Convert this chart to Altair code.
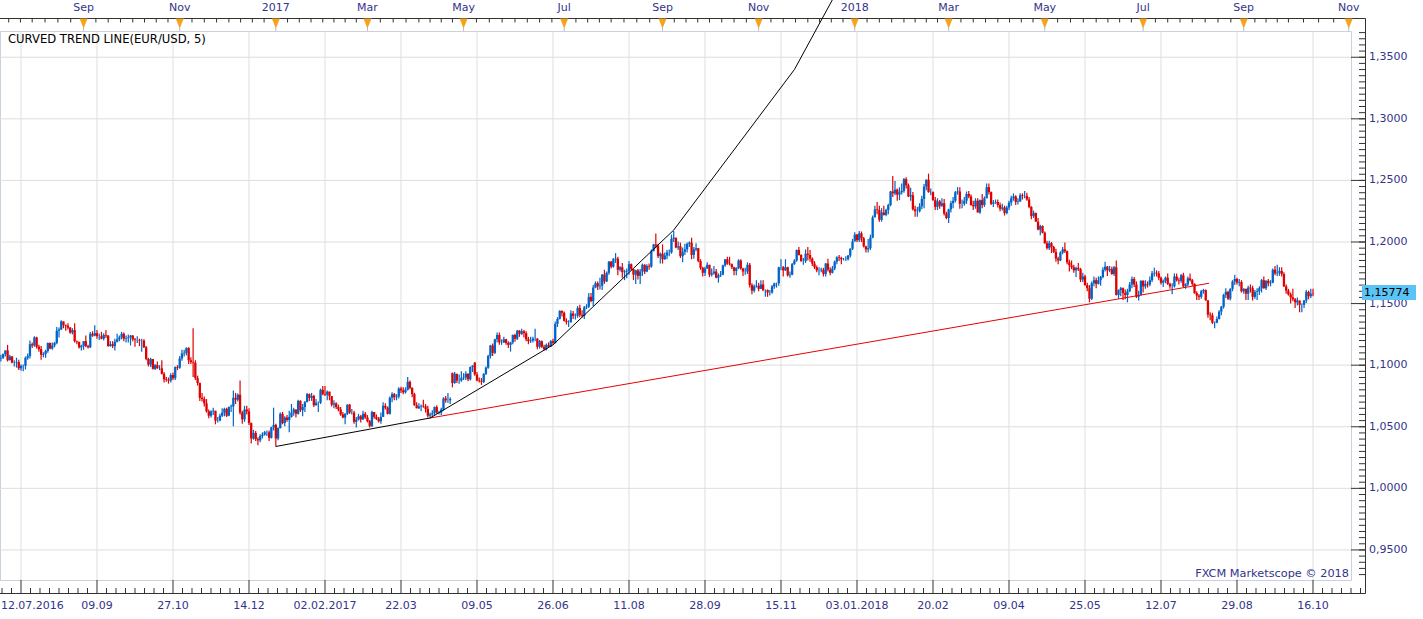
import altair as alt
import pandas as pd

FONT = "DejaVu Sans"
BLUE = "#0064c8"
RED = "#e00000"
LABEL = "#33338a"
GRID = "#dedede"
AXIS = "#333333"
FRAME = "#c9d1dc"

# ---------------- data (EUR/USD daily, 1e-4 units: (high, low, close)) ----------------
first_open = 11055
gap_opens = {"2017-04-24": 10935, "2017-05-08": 11020}
dropped_days = ["2016-12-26", "2017-01-02", "2018-01-01"]
current_price = 1.15774
current_label = "1,15774"

m2016_07 = [(11085,11030,11060),(11095,11050,11090),(11120,11070,11120),(11165,11030,11040),(11085,11040,11070),(11075,11015,11020),(11040,10990,11020),(11060,10980,11025),(11045,10960,10975),(11005,10955,10995),(11005,10950,10995),(11070,10965,11060),(11095,11045,11075),(11200,11055,11170)]
m2016_08 = [(11185,11140,11160),(11235,11150,11225),(11230,11135,11150),(11165,11110,11130),(11155,11045,11085),(11105,11065,11090),(11125,11060,11115),(11185,11100,11180),(11185,11130,11135),(11185,11125,11160),(11190,11145,11180),(11310,11170,11280),(11305,11225,11290),(11365,11285,11355),(11355,11300,11325),(11330,11280,11320),(11340,11290,11305),(11310,11255,11265),(11300,11250,11285),(11340,11185,11195),(11200,11170,11190),(11190,11135,11145),(11165,11120,11155)]
m2016_09 = [(11195,11125,11195),(11240,11145,11155),(11165,11135,11145),(11270,11140,11255),(11275,11230,11240),(11325,11235,11260),(11285,11215,11235),(11255,11205,11235),(11270,11210,11215),(11260,11200,11245),(11285,11220,11240),(11245,11150,11155),(11195,11150,11170),(11195,11140,11155),(11215,11120,11190),(11255,11185,11210),(11240,11195,11225),(11270,11210,11255),(11265,11195,11215),(11240,11185,11220),(11250,11185,11225),(11245,11160,11240)]
m2016_10 = [(11245,11195,11210),(11220,11150,11205),(11235,11180,11205),(11215,11155,11200),(11215,11110,11200),(11210,11140,11145),(11155,11040,11050),(11060,10990,11005),(11060,10985,11050),(11050,10965,10970),(11010,10960,11000),(11030,10970,10975),(11000,10960,10975),(11040,10925,10930),(10945,10860,10885),(10905,10865,10880),(10900,10850,10875),(10935,10860,10920),(10940,10880,10895),(10990,10880,10985),(11000,10960,10980)]
m2016_11 = [(11075,10970,11055),(11125,11035,11095),(11125,11070,11100),(11145,11080,11140),(11145,11010,11040),(11065,11010,11025),(11300,10905,11020),(11040,10880,10895),(10915,10835,10855),(10860,10710,10735),(10775,10705,10725),(10745,10665,10690),(10725,10615,10625),(10640,10570,10590),(10635,10575,10625),(10655,10595,10630),(10630,10520,10550),(10580,10535,10550),(10605,10545,10590),(10650,10580,10615),(10655,10585,10645),(10655,10580,10590)]
m2016_12 = [(10665,10585,10660),(10680,10620,10665),(10795,10505,10735),(10775,10685,10720),(10770,10705,10760),(10875,10600,10615),(10630,10525,10560),(10670,10540,10640),(10670,10600,10625),(10650,10515,10530),(10535,10365,10405),(10475,10395,10450),(10465,10385,10400),(10415,10350,10390),(10440,10375,10425),(10455,10405,10435),(10465,10430,10455),(10470,10425,10455),(10470,10385,10410),(10500,10405,10495),(10655,10470,10515)]
m2017_01 = [(10525,10340,10405),(10495,10390,10490),(10615,10485,10605),(10620,10520,10530),(10585,10505,10575),(10595,10540,10555),(10630,10455,10580),(10685,10575,10615),(10655,10590,10640),(10630,10575,10605),(10720,10600,10710),(10715,10620,10635),(10685,10585,10660),(10710,10620,10700),(10775,10700,10765),(10770,10710,10735),(10775,10710,10750),(10760,10660,10675),(10725,10670,10695),(10705,10620,10695),(10810,10685,10800)]
m2017_02 = [(10830,10755,10765),(10830,10750,10760),(10795,10715,10785),(10780,10715,10750),(10750,10665,10680),(10715,10650,10690),(10700,10645,10660),(10680,10625,10640),(10660,10590,10600),(10620,10570,10575),(10610,10520,10605),(10680,10595,10680),(10685,10605,10615),(10645,10600,10615),(10630,10525,10540),(10580,10495,10560),(10605,10550,10585),(10595,10535,10560),(10630,10555,10605),(10620,10565,10575)]
m2017_03 = [(10595,10535,10545),(10555,10495,10505),(10630,10500,10620),(10615,10565,10580),(10600,10555,10565),(10580,10535,10545),(10615,10525,10580),(10700,10580,10670),(10690,10640,10655),(10665,10600,10605),(10745,10600,10735),(10780,10700,10765),(10775,10715,10740),(10765,10715,10745),(10820,10730,10810),(10825,10775,10795),(10820,10765,10780),(10820,10770,10800),(10905,10795,10865),(10875,10805,10815),(10820,10740,10765),(10775,10670,10675),(10700,10650,10650)]
m2017_04 = [(10690,10645,10665),(10680,10625,10670),(10720,10655,10665),(10685,10615,10645),(10670,10575,10590),(10615,10570,10600),(10635,10580,10610),(10665,10590,10660),(10675,10605,10615),(10630,10600,10615),(10655,10595,10640),(10740,10630,10730),(10750,10695,10715),(10775,10695,10715),(10740,10685,10725),(10940,10820,10855),(10945,10850,10930),(10930,10855,10875),(10925,10850,10875),(10950,10865,10895)]
m2017_05 = [(10935,10880,10900),(10950,10880,10930),(10935,10870,10885),(10990,10875,10985),(11000,10945,10995),(11025,10915,10925),(10945,10870,10875),(10900,10860,10870),(10895,10840,10865),(10935,10855,10930),(10990,10920,10980),(11085,10970,11075),(11165,11055,11160),(11175,11075,11100),(11215,11090,11210),(11265,11185,11245),(11265,11165,11185),(11210,11165,11185),(11230,11180,11210),(11215,11165,11180),(11195,11140,11165),(11190,11110,11185),(11250,11170,11245)]
m2017_06 = [(11255,11190,11215),(11285,11205,11280),(11285,11230,11255),(11295,11245,11275),(11285,11225,11260),(11275,11195,11210),(11230,11170,11195),(11230,11180,11200),(11230,11185,11215),(11295,11195,11215),(11220,11130,11150),(11205,11135,11195),(11200,11140,11150),(11165,11120,11130),(11175,11120,11165),(11185,11145,11150),(11205,11150,11195),(11215,11165,11180),(11355,11175,11335),(11390,11310,11375),(11445,11370,11440),(11445,11395,11425)]
m2017_07 = [(11435,11355,11360),(11380,11330,11350),(11365,11310,11350),(11445,11345,11420),(11440,11375,11400),(11420,11370,11400),(11480,11385,11465),(11490,11390,11410),(11445,11390,11400),(11480,11375,11470),(11495,11455,11475),(11585,11465,11555),(11585,11510,11520),(11650,11480,11630),(11680,11625,11665),(11680,11610,11640),(11710,11615,11645),(11740,11610,11735),(11775,11660,11680),(11760,11675,11750),(11845,11735,11840)]
m2017_08 = [(11845,11785,11800),(11870,11790,11860),(11910,11830,11865),(11880,11730,11775),(11805,11760,11795),(11830,11710,11755),(11775,11690,11760),(11785,11705,11765),(11845,11735,11820),(11825,11770,11780),(11780,11690,11735),(11775,11660,11770),(11780,11695,11725),(11780,11660,11760),(11825,11725,11815),(11820,11740,11760),(11820,11755,11805),(11825,11775,11800),(11940,11790,11925),(11985,11925,11980),(12070,11950,11970),(11985,11870,11885),(11915,11825,11905)]
m2017_09 = [(11980,11825,11860),(11915,11855,11890),(11935,11860,11915),(11940,11885,11915),(12060,11905,12025),(12090,12000,12035),(12035,11950,11955),(12005,11935,11965),(11995,11870,11885),(11955,11835,11920),(11985,11895,11940),(11995,11915,11985),(12005,11960,11995),(12035,11860,11895),(11960,11865,11940),(11990,11925,11950),(11950,11835,11845),(11860,11775,11790),(11800,11720,11750),(11800,11725,11785),(11835,11780,11815)]
m2017_10 = [(11815,11715,11735),(11785,11720,11745),(11805,11735,11760),(11780,11705,11710),(11745,11670,11730),(11765,11715,11735),(11815,11730,11810),(11860,11800,11860),(11880,11815,11825),(11880,11810,11820),(11825,11780,11795),(11800,11730,11765),(11795,11730,11790),(11860,11780,11850),(11860,11775,11785),(11790,11725,11760),(11790,11735,11760),(11835,11740,11815),(11830,11630,11650),(11665,11575,11605),(11655,11590,11640),(11690,11630,11645)]
m2017_11 = [(11670,11600,11620),(11690,11620,11655),(11690,11600,11610),(11615,11555,11610),(11615,11555,11590),(11610,11565,11590),(11650,11580,11640),(11670,11620,11665),(11670,11630,11665),(11800,11645,11795),(11860,11770,11795),(11805,11720,11770),(11860,11765,11795),(11800,11720,11730),(11760,11710,11735),(11830,11730,11820),(11860,11815,11850),(11940,11840,11935),(11960,11890,11895),(11900,11840,11845),(11870,11815,11845),(11940,11830,11905)]
m2017_12 = [(11960,11850,11895),(11935,11840,11865),(11875,11805,11825),(11845,11780,11795),(11810,11755,11770),(11795,11730,11770),(11790,11755,11775),(11790,11720,11740),(11830,11720,11825),(11865,11760,11775),(11795,11730,11750),(11805,11745,11785),(11850,11770,11840),(11885,11820,11875),(11895,11845,11870),(11880,11820,11860),(11870,11850,11860),(11885,11845,11860),(11895,11850,11890),(11950,11875,11945),(12025,11935,12005)]
m2018_01 = [(12080,12005,12060),(12065,12000,12015),(12090,12000,12070),(12085,12000,12030),(12040,11955,11965),(11970,11915,11940),(12025,11915,11950),(12060,11935,12035),(12215,12030,12200),(12295,12200,12265),(12325,12225,12260),(12295,12165,12180),(12275,12165,12240),(12295,12215,12220),(12270,12210,12260),(12310,12225,12300),(12415,12290,12410),(12535,12365,12395),(12495,12380,12425),(12435,12335,12385),(12445,12340,12405),(12475,12385,12415)]
m2018_02 = [(12520,12400,12510),(12525,12435,12460),(12475,12365,12370),(12440,12335,12380),(12405,12255,12265),(12295,12205,12250),(12285,12205,12250),(12315,12240,12290),(12375,12265,12350),(12470,12275,12450),(12510,12420,12505),(12555,12400,12405),(12435,12380,12405),(12410,12335,12340),(12365,12260,12285),(12355,12260,12330),(12340,12270,12295),(12355,12285,12315),(12350,12215,12230),(12245,12185,12195)]
m2018_03 = [(12270,12155,12265),(12335,12240,12315),(12365,12275,12335),(12415,12320,12405),(12445,12385,12410),(12445,12270,12310),(12345,12275,12310),(12365,12295,12335),(12410,12310,12390),(12415,12355,12370),(12385,12295,12300),(12335,12260,12290),(12355,12270,12335),(12355,12240,12240),(12345,12230,12340),(12390,12275,12300),(12370,12285,12355),(12475,12355,12445),(12475,12385,12405),(12410,12300,12310),(12340,12285,12320),(12345,12310,12325)]
m2018_04 = [(12345,12280,12300),(12320,12250,12270),(12310,12255,12280),(12295,12215,12235),(12295,12225,12280),(12335,12260,12320),(12375,12295,12355),(12395,12335,12370),(12380,12300,12325),(12355,12305,12330),(12395,12325,12380),(12395,12345,12375),(12415,12355,12375),(12400,12335,12345),(12365,12275,12285),(12290,12185,12210),(12255,12195,12235),(12240,12165,12165),(12195,12095,12100),(12140,12055,12130),(12135,12070,12075)]
m2018_05 = [(12085,11985,11990),(12010,11940,11950),(12010,11935,11990),(12000,11910,11960),(11970,11910,11920),(11945,11840,11865),(11880,11820,11850),(11925,11845,11915),(11960,11900,11940),(11995,11910,11925),(11930,11820,11835),(11855,11760,11810),(11850,11780,11795),(11815,11750,11770),(11800,11715,11790),(11830,11765,11780),(11790,11675,11695),(11750,11675,11720),(11735,11645,11650),(11670,11600,11625),(11650,11510,11540),(11680,11530,11665),(11720,11640,11690)]
m2018_06 = [(11710,11625,11660),(11720,11655,11690),(11725,11645,11715),(11795,11705,11775),(11840,11760,11800),(11805,11725,11770),(11805,11755,11780),(11800,11735,11740),(11805,11725,11795),(11850,11565,11570),(11615,11540,11610),(11635,11560,11625),(11630,11530,11585),(11615,11535,11570),(11620,11510,11600),(11675,11595,11655),(11720,11625,11700),(11715,11635,11655),(11680,11545,11555),(11605,11525,11570),(11690,11565,11685)]
m2018_07 = [(11690,11590,11640),(11690,11620,11660),(11680,11630,11655),(11720,11640,11690),(11765,11675,11745),(11790,11720,11750),(11770,11720,11745),(11765,11690,11710),(11720,11655,11670),(11695,11635,11685),(11720,11665,11710),(11745,11650,11660),(11670,11620,11640),(11665,11575,11640),(11745,11630,11720),(11745,11680,11690),(11710,11655,11685),(11740,11670,11730),(11750,11630,11640),(11665,11620,11655),(11720,11640,11705),(11745,11680,11690)]
m2018_08 = [(11700,11645,11660),(11665,11580,11585),(11600,11530,11565),(11575,11530,11555),(11610,11540,11600),(11620,11580,11610),(11615,11525,11525),(11530,11385,11410),(11430,11365,11405),(11425,11335,11345),(11355,11300,11345),(11395,11340,11375),(11445,11370,11435),(11480,11405,11475),(11580,11460,11570),(11625,11545,11595),(11605,11530,11540),(11625,11525,11620),(11690,11600,11680),(11735,11650,11700),(11710,11655,11670),(11700,11640,11675),(11690,11590,11600)]
m2018_09 = [(11625,11580,11620),(11615,11530,11580),(11645,11530,11630),(11655,11590,11625),(11645,11525,11555),(11610,11540,11595),(11625,11530,11600),(11640,11570,11625),(11700,11590,11690),(11720,11620,11625),(11690,11610,11685),(11700,11640,11665),(11690,11640,11670),(11785,11665,11775),(11805,11730,11745),(11815,11725,11750),(11795,11725,11765),(11795,11720,11740),(11755,11635,11640),(11655,11580,11605)]
m2018_10 = [(11620,11565,11575),(11590,11500,11550),(11620,11520,11535),(11545,11465,11510),(11550,11485,11525),(11525,11430,11490),(11500,11430,11490),(11530,11465,11525),(11610,11505,11595),(11605,11535,11560),(11620,11545,11580),(11620,11560,11577)]

# curved trend line vertices (bar index, price) and straight trend line
curve_idx = [123, 192, 247, 301, 355, 409]
curve_px = [1.0340, 1.0571, 1.1165, 1.2097, 1.3400, 1.5200]
line_idx = [192, 540.5]
line_px = [1.0571, 1.1665]

price_levels = [0.95, 1.00, 1.05, 1.10, 1.15, 1.20, 1.25, 1.30, 1.35]
month_abbr = {3: "Mar", 5: "May", 7: "Jul", 9: "Sep", 11: "Nov"}

# ---------------- build tables ----------------
months = [m2016_07, m2016_08, m2016_09, m2016_10, m2016_11, m2016_12,
          m2017_01, m2017_02, m2017_03, m2017_04, m2017_05, m2017_06,
          m2017_07, m2017_08, m2017_09, m2017_10, m2017_11, m2017_12,
          m2018_01, m2018_02, m2018_03, m2018_04, m2018_05, m2018_06,
          m2018_07, m2018_08, m2018_09, m2018_10]
bars = [b for m in months for b in m]
dates = [d for d in pd.bdate_range("2016-07-12", "2018-10-16")
         if d.strftime("%Y-%m-%d") not in dropped_days]
if len(dates) != len(bars):
    raise SystemExit(f"length mismatch: {len(dates)} dates vs {len(bars)} bars")

rows = []
prev = first_open
for i, (d, (h, l, c)) in enumerate(zip(dates, bars)):
    o = gap_opens.get(d.strftime("%Y-%m-%d"), prev)
    rows.append({"i": i, "o": o / 1e4, "c": c / 1e4,
                 "h": max(h, o, c) / 1e4, "l": min(l, o, c) / 1e4,
                 "dir": "up" if c >= o else "down"})
    prev = c
candles = pd.DataFrame(rows)
last_i = len(dates) - 1


def pos(ts):
    ts = pd.Timestamp(ts)
    if ts < dates[0]:
        return -len(pd.bdate_range(ts, dates[0] - pd.Timedelta(days=1)))
    if ts > dates[-1]:
        return last_i + (ts - dates[-1]).days
    for k, d in enumerate(dates):
        if d >= ts:
            return k


month_starts = list(pd.date_range("2016-07-01", "2018-12-01", freq="MS"))
ms_pos = [pos(m) for m in month_starts]
X_DOM = [-0.394, 604.0]
X_MAX_AXIS = 610.3
top_ticks = []
for a, b in zip(ms_pos[:-1], ms_pos[1:]):
    for k in range(4):
        t = a + k * (b - a) / 4
        if 0 <= t <= X_MAX_AXIS:
            top_ticks.append(t)
top_marks = []
for m, p in zip(month_starts, ms_pos):
    if m.month % 2 == 1 and 0 <= p <= X_MAX_AXIS:
        top_marks.append({"i": p, "t": str(m.year) if m.month == 1 else month_abbr[m.month]})

grid_idx = list(range(9, 605, 34))
label_idx = [0] + list(range(43, last_i + 1, 34))
labels = []
prev_year = None
for k in label_idx:
    d = dates[k]
    txt = d.strftime("%d.%m")
    if prev_year is None or d.year != prev_year:
        txt += "." + str(d.year)
    prev_year = d.year
    labels.append({"i": k, "t": txt})
minor_idx = [9 + 4.25 * j for j in range(-2, 145) if 0 <= 9 + 4.25 * j <= X_MAX_AXIS]
minor_idx = [v for v in minor_idx if (v - 9) % 34 != 0]

minor_prices = [round(0.930 + 0.005 * k, 3) for k in range(0, 89)]
right_labels = [{"p": p, "t": f"{p:.4f}".replace(".", ",")} for p in price_levels]

# ---------------- chart ----------------
W, H = 1351, 549
xs = alt.Scale(domain=X_DOM, nice=False, zero=False)
ys = alt.Scale(domain=[0.9256, 1.3713], nice=False, zero=False)


def X(f):
    return alt.X(f, type="quantitative", scale=xs, axis=None)


def Y(f):
    return alt.Y(f, type="quantitative", scale=ys, axis=None)


one = pd.DataFrame({"k": [0]})
TOP_Y, BOT_Y, RIGHT_X = -12.5, 562.5, 1365.5
txt = dict(font=FONT, fontSize=11)

hgrid = alt.Chart(pd.DataFrame({"p": price_levels})).mark_rule(color=GRID).encode(y=Y("p"))
vgrid = alt.Chart(pd.DataFrame({"i": grid_idx})).mark_rule(color=GRID).encode(x=X("i"))

col = alt.Color("dir:N", scale=alt.Scale(domain=["up", "down"], range=[BLUE, RED]), legend=None)
wicks = alt.Chart(candles).mark_rule(strokeWidth=1.2).encode(x=X("i"), y=Y("l"), y2="h", color=col)
bodies = alt.Chart(candles).mark_rule(strokeWidth=2.3).encode(x=X("i"), y=Y("o"), y2="c", color=col)

curve = alt.Chart(pd.DataFrame({"i": curve_idx, "p": curve_px})).mark_line(
    color="black", strokeWidth=1).encode(x=X("i"), y=Y("p"))
tline = alt.Chart(pd.DataFrame({"i": line_idx, "p": line_px})).mark_line(
    color="#e80000", strokeWidth=1).encode(x=X("i"), y=Y("p"))

top_line = alt.Chart(one).mark_rule(color=AXIS).encode(
    x=alt.value(0), x2=alt.value(RIGHT_X), y=alt.value(TOP_Y))
right_line = alt.Chart(one).mark_rule(color=AXIS).encode(
    x=alt.value(RIGHT_X), y=alt.value(TOP_Y), y2=alt.value(BOT_Y))
bot_line = alt.Chart(one).mark_rule(color=AXIS).encode(
    x=alt.value(0), x2=alt.value(RIGHT_X), y=alt.value(BOT_Y))

ttick = alt.Chart(pd.DataFrame({"i": top_ticks})).mark_rule(color=AXIS).encode(
    x=X("i"), y=alt.value(TOP_Y), y2=alt.value(TOP_Y + 4))
tmarks = pd.DataFrame(top_marks)
tstem = alt.Chart(tmarks).mark_rule(color="#b8c0cc").encode(
    x=X("i"), y=alt.value(-4), y2=alt.value(0))
tri = alt.Chart(tmarks).mark_point(shape="M-0.8,-1L0.8,-1L0,1Z", filled=True, opacity=1,
                                   color="#f5a21e", size=100).encode(x=X("i"), y=alt.value(-7.5))
tlab = alt.Chart(tmarks).mark_text(align="center", baseline="middle", color=LABEL, **txt).encode(
    x=X("i"), y=alt.value(-23), text="t:N")

bmaj = alt.Chart(pd.DataFrame({"i": grid_idx})).mark_rule(color=AXIS).encode(
    x=X("i"), y=alt.value(549), y2=alt.value(BOT_Y))
bmin = alt.Chart(pd.DataFrame({"i": minor_idx})).mark_rule(color=AXIS).encode(
    x=X("i"), y=alt.value(557), y2=alt.value(BOT_Y))
lab_df = pd.DataFrame(labels)
blab0 = alt.Chart(lab_df.iloc[:1]).mark_text(align="left", baseline="middle", color=LABEL, **txt).encode(
    x=X("i"), y=alt.value(575), text="t:N")
blab = alt.Chart(lab_df.iloc[1:]).mark_text(align="center", baseline="middle", color=LABEL, **txt).encode(
    x=X("i"), y=alt.value(575), text="t:N")

rmaj = alt.Chart(pd.DataFrame({"p": price_levels})).mark_rule(color=AXIS).encode(
    x=alt.value(1351), x2=alt.value(RIGHT_X), y=Y("p"))
rmin = alt.Chart(pd.DataFrame({"p": minor_prices})).mark_rule(color=AXIS).encode(
    x=alt.value(1359), x2=alt.value(RIGHT_X), y=Y("p"))
rlab = alt.Chart(pd.DataFrame(right_labels)).mark_text(align="left", baseline="middle", color=LABEL, **txt).encode(
    x=alt.value(1369), y=Y("p"), text="t:N")

cur = pd.DataFrame({"p": [current_price], "t": [current_label]})
cbox = alt.Chart(cur).mark_rect(color="#5ac4f6", yOffset=-9, y2Offset=6).encode(
    x=alt.value(1362), x2=alt.value(1416), y=Y("p"), y2="p")
ctxt = alt.Chart(cur).mark_text(align="left", baseline="middle", color="black", dy=-1.5, **txt).encode(
    x=alt.value(1364), y=Y("p"), text="t:N")

title = alt.Chart(pd.DataFrame({"t": ["CURVED TREND LINE(EUR/USD, 5)"]})).mark_text(
    align="left", baseline="middle", color="black", font=FONT, fontSize=11.6).encode(
    x=alt.value(8), y=alt.value(9), text="t:N")
credit = alt.Chart(pd.DataFrame({"t": ["FXCM Marketscope \u00a9 2018"]})).mark_text(
    align="right", baseline="middle", color=LABEL, font=FONT, fontSize=11.3).encode(
    x=alt.value(1349), y=alt.value(543), text="t:N")

chart = alt.layer(
    hgrid, vgrid, wicks, bodies, tline, title, credit,
    top_line, right_line, bot_line, ttick, tstem, tri, tlab,
    bmaj, bmin, blab0, blab, rmaj, rmin, rlab, cbox, ctxt, curve,
).properties(
    width=W, height=H,
    padding={"left": 0, "top": 31, "right": 72, "bottom": 39},
    autosize=alt.AutoSizeParams(type="none"),
    background="white",
).configure_view(stroke=FRAME, strokeWidth=1)

chart.save("out.html", embed_options={"renderer": "svg", "actions": False})
